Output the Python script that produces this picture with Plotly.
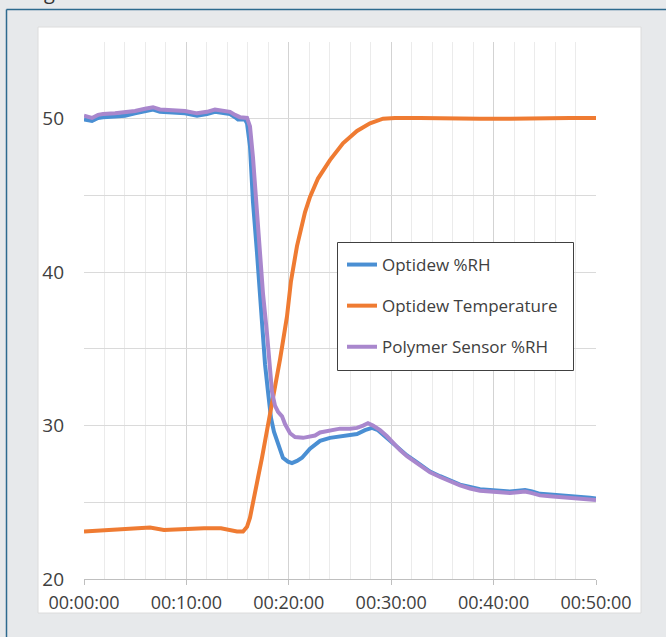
import plotly.graph_objects as go

# ---- data (time in minutes) ----
rh_time = [0, 0.39, 0.78, 1.37, 1.86, 3.03, 4.00, 4.98, 5.96, 6.74, 7.42, 8.40, 9.86,
           11.04, 12.01, 12.79, 13.48, 14.26, 14.75, 15.04, 15.72, 15.92, 16.21, 16.50,
           16.89, 17.19, 17.48, 17.68, 17.97, 18.26, 18.55, 18.85, 19.14, 19.43, 19.92,
           20.31, 20.80, 21.29, 22.07, 23.05, 24.02, 25.00, 25.98, 26.66, 27.44, 28.13,
           28.71, 29.39, 30.18, 30.86, 31.54, 32.32, 33.01, 33.79, 34.77, 35.74, 36.72,
           37.70, 38.67, 39.65, 40.63, 41.60, 42.38, 43.07, 43.75, 44.53, 45.51, 46.48,
           47.46, 48.44, 49.41, 50.00]
rh_values = [49.95, 49.9, 49.85, 50.05, 50.1, 50.15, 50.2, 50.35, 50.5, 50.6, 50.45, 50.4,
             50.35, 50.2, 50.3, 50.45, 50.4, 50.3, 50.1, 49.95, 49.95, 49.7, 48.2, 44.6,
             41.3, 38.6, 35.5, 34.0, 32.2, 30.5, 29.6, 29.0, 28.4, 27.9, 27.65, 27.55,
             27.7, 27.9, 28.5, 29.0, 29.2, 29.3, 29.4, 29.45, 29.7, 29.85, 29.7, 29.3,
             28.8, 28.4, 28.05, 27.7, 27.4, 27.0, 26.7, 26.4, 26.15, 26.0, 25.85, 25.8,
             25.75, 25.7, 25.75, 25.8, 25.7, 25.55, 25.5, 25.45, 25.45, 25.4, 25.3, 25.25]

temp_time = [0, 1.56, 3.52, 5.47, 6.45, 7.81, 9.38, 11.72, 13.38, 14.26, 14.94, 15.53,
             15.92, 16.21, 16.70, 16.99, 17.38, 17.97, 18.65, 19.14, 19.82, 20.21, 20.80,
             21.58, 22.07, 22.85, 24.02, 25.29, 26.66, 27.93, 29.20, 30.37, 32.81, 35.74,
             38.67, 41.60, 44.53, 47.46, 50.00]
temp_values = [23.1, 23.15, 23.25, 23.3, 23.35, 23.2, 23.25, 23.3, 23.3, 23.2, 23.1, 23.1,
               23.4, 24.0, 25.5, 26.6, 27.9, 30.1, 32.3, 34.3, 37.1, 39.4, 41.7,
               43.9, 44.9, 46.1, 47.3, 48.4, 49.2, 49.7, 50.0, 50.05, 50.05, 50.0,
               50.0, 50.0, 50.05, 50.05, 50.05]

poly_time = [0, 0.39, 0.78, 1.37, 1.86, 3.03, 4.00, 4.98, 5.96, 6.74, 7.42, 8.40, 9.86,
             11.04, 12.01, 12.79, 13.48, 14.26, 14.75, 15.23, 15.92, 16.21, 16.50, 16.80,
             17.19, 17.48, 17.87, 18.16, 18.36, 18.65, 18.95, 19.34, 19.63, 20.12, 20.61,
             21.39, 22.07, 22.56, 23.05, 24.02, 25.00, 25.98, 26.66, 27.25, 27.73, 28.22,
             28.91, 29.59, 30.18, 30.86, 31.54, 32.32, 33.01, 33.79, 34.77, 35.74, 36.72,
             37.70, 38.67, 39.65, 40.63, 41.60, 42.38, 43.07, 43.75, 44.53, 45.51, 46.48,
             47.46, 48.44, 49.41, 50.00]
poly_values = [50.2, 50.1, 50.05, 50.25, 50.3, 50.35, 50.4, 50.5, 50.65, 50.75, 50.6, 50.55,
               50.5, 50.35, 50.45, 50.6, 50.55, 50.45, 50.25, 50.1, 50.05, 49.5, 47.5, 44.6,
               41.3, 38.6, 36.0, 33.5, 32.2, 31.3, 30.9, 30.6, 30.1, 29.5, 29.25, 29.2,
               29.25, 29.35, 29.55, 29.7, 29.8, 29.8, 29.85, 30.0, 30.15, 30.0, 29.7, 29.3,
               28.85, 28.4, 28.0, 27.65, 27.35, 26.95, 26.65, 26.35, 26.1, 25.9, 25.75,
               25.7, 25.65, 25.6, 25.65, 25.7, 25.6, 25.45, 25.4, 25.35, 25.3, 25.25, 25.2,
               25.15]

x_tick_vals = [0, 10, 20, 30, 40, 50]
x_tick_text = ["00:00:00", "00:10:00", "00:20:00", "00:30:00", "00:40:00", "00:50:00"]
y_tick_vals = [20, 25, 30, 35, 40, 45, 50]
y_tick_text = ["20", "", "30", "", "40", "", "50"]

series_names = ["Optidew %RH", "Optidew Temperature", "Polymer Sensor %RH"]
series_colors = ["#4a8fd3", "#ef7b32", "#a987cd"]

FONT = "Open Sans"
TXT = "#404040"

fig = go.Figure()
for name, xs, ys, col in zip(series_names,
                             [rh_time, temp_time, poly_time],
                             [rh_values, temp_values, poly_values],
                             series_colors):
    fig.add_trace(go.Scatter(x=xs, y=ys, mode="lines", name=name,
                             legendgroup=name,
                             line=dict(color=col, width=4)))

W, H = 666, 637
L, R, T, B = 84, 70, 42, 58
pw, ph = W - L - R, H - T - B

def px_x(p):
    return (p - L) / pw

def px_y(p):
    return (H - B - p) / ph

shapes = [
    # white chart panel
    dict(type="rect", xref="paper", yref="paper", layer="below",
         x0=px_x(38), x1=px_x(641), y0=px_y(613), y1=px_y(27),
         fillcolor="white", line=dict(color="#dcdcdc", width=1)),
    # frame lines (top and left)
    dict(type="line", xref="paper", yref="paper",
         x0=px_x(6.5), x1=px_x(667), y0=px_y(9.5), y1=px_y(9.5),
         line=dict(color="#2d6a8e", width=1.5)),
    dict(type="line", xref="paper", yref="paper",
         x0=px_x(6.5), x1=px_x(6.5), y0=px_y(9.5), y1=px_y(638),
         line=dict(color="#2d6a8e", width=1.5)),
    # legend box
    dict(type="rect", xref="paper", yref="paper", layer="above",
         x0=px_x(337.5), x1=px_x(573.5), y0=px_y(370.5), y1=px_y(242.5),
         fillcolor="white", line=dict(color="#404040", width=1)),
]

fig.update_layout(
    width=W, height=H,
    margin=dict(l=L, r=R, t=T, b=B),
    paper_bgcolor="#e7e9eb",
    plot_bgcolor="white",
    font=dict(family=FONT, color=TXT),
    shapes=shapes,
    showlegend=True,
    legend=dict(x=px_x(342), y=px_y(247), xanchor="left", yanchor="top",
                bgcolor="rgba(0,0,0,0)", borderwidth=0,
                font=dict(family=FONT, size=17, color=TXT),
                tracegroupgap=16, itemwidth=30),
    annotations=[dict(text="g", xref="paper", yref="paper",
                      x=px_x(49), y=px_y(7), xanchor="center", yanchor="bottom",
                      showarrow=False, font=dict(family=FONT, size=20, color="#333"))],
    xaxis=dict(range=[0, 50], tickmode="array", tickvals=x_tick_vals,
               ticktext=x_tick_text, tickfont=dict(size=18, color=TXT),
               showgrid=True, gridcolor="#d3d3d3", gridwidth=1,
               minor=dict(tick0=0, dtick=2, showgrid=True, gridcolor="#ebebeb",
                          ticks=""),
               showline=True, linecolor="#bfbfbf", linewidth=1,
               ticks="outside", ticklen=5, tickcolor="#bfbfbf",
               ticklabelstandoff=2,
               zeroline=False, fixedrange=True),
    yaxis=dict(range=[20, 55], tickmode="array", tickvals=y_tick_vals,
               ticktext=y_tick_text, tickfont=dict(size=19, color=TXT),
               showgrid=True, gridcolor="#dadada", gridwidth=1,
               showline=False, ticks="", ticklabelstandoff=19,
               zeroline=False, fixedrange=True),
)

fig.write_html("out.html", config={"displayModeBar": False},
               post_script="document.body.style.margin='0';document.body.style.overflow='hidden';")
